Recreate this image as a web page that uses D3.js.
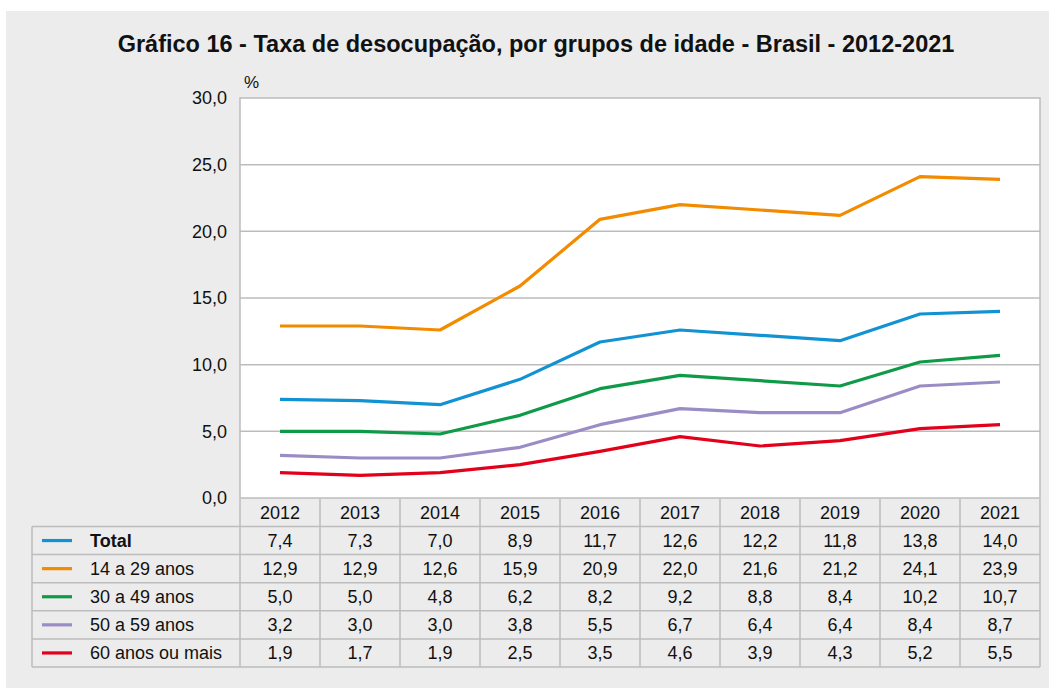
<!DOCTYPE html>
<html>
<head>
<meta charset="utf-8">
<script src="https://cdn.jsdelivr.net/npm/d3@7"></script>
<style>
  body { margin: 0; background: #fff; }
  svg { display: block; font-family: "Liberation Sans", Arial, sans-serif; }
</style>
</head>
<body>
<div id="chart"></div>
<script>
// data
const years = ["2012", "2013", "2014", "2015", "2016", "2017", "2018", "2019", "2020", "2021"];
const seriesNames = ["Total", "14 a 29 anos", "30 a 49 anos", "50 a 59 anos", "60 anos ou mais"];
const total = [7.4, 7.3, 7.0, 8.9, 11.7, 12.6, 12.2, 11.8, 13.8, 14.0];
const age14to29 = [12.9, 12.9, 12.6, 15.9, 20.9, 22.0, 21.6, 21.2, 24.1, 23.9];
const age30to49 = [5.0, 5.0, 4.8, 6.2, 8.2, 9.2, 8.8, 8.4, 10.2, 10.7];
const age50to59 = [3.2, 3.0, 3.0, 3.8, 5.5, 6.7, 6.4, 6.4, 8.4, 8.7];
const age60plus = [1.9, 1.7, 1.9, 2.5, 3.5, 4.6, 3.9, 4.3, 5.2, 5.5];
const yTicks = [0, 5, 10, 15, 20, 25, 30];

const series = [total, age14to29, age30to49, age50to59, age60plus];
const colors = ["#1192d3", "#f28b00", "#0f9a47", "#9a8dc5", "#e3001b"];

const W = 1049, H = 689;
const plot = { left: 240, right: 1040, top: 98, bottom: 498 };
const tableLeft = 32;
const headerTop = 499, headerH = 27.5;
const rowH = 28.1;
const gridColor = "#bcbcbc";
const fs = 18;
const fmt = v => v.toFixed(1).replace(".", ",");

const svg = d3.select("#chart").append("svg")
    .attr("width", W)
    .attr("height", H);

// gray panel
svg.append("rect")
    .attr("x", 6).attr("y", 11)
    .attr("width", W - 6).attr("height", H - 12)
    .attr("fill", "#ececec");

// title
svg.append("text")
    .attr("x", 536).attr("y", 52)
    .attr("text-anchor", "middle")
    .attr("font-size", 23.5)
    .attr("font-weight", "bold")
    .attr("fill", "#111")
    .text("Gráfico 16 - Taxa de desocupação, por grupos de idade - Brasil - 2012-2021");

// scales
const x = d3.scaleBand().domain(years).range([plot.left, plot.right]);
const y = d3.scaleLinear().domain([0, 30]).range([plot.bottom, plot.top]);

// plot background
svg.append("rect")
    .attr("x", plot.left).attr("y", plot.top)
    .attr("width", plot.right - plot.left)
    .attr("height", plot.bottom - plot.top)
    .attr("fill", "#fff")
    .attr("stroke", gridColor)
    .attr("stroke-width", 1.5);

// gridlines
svg.append("g")
    .selectAll("line")
    .data(yTicks.filter(d => d > 0 && d < 30))
    .join("line")
    .attr("x1", plot.left).attr("x2", plot.right)
    .attr("y1", d => y(d)).attr("y2", d => y(d))
    .attr("stroke", gridColor)
    .attr("stroke-width", 1.5);

// y axis labels
const yAxis = d3.axisLeft(y).tickValues(yTicks).tickFormat(fmt).tickSize(0).tickPadding(13);
const yg = svg.append("g")
    .attr("transform", "translate(" + plot.left + ",0)")
    .call(yAxis);
yg.select(".domain").remove();
yg.selectAll("text")
    .attr("font-size", fs)
    .attr("font-family", "Liberation Sans, Arial, sans-serif")
    .attr("fill", "#111");

svg.append("text")
    .attr("x", 244).attr("y", 88)
    .attr("font-size", 17)
    .attr("fill", "#111")
    .text("%");

// lines
const line = d3.line()
    .x((d, i) => x(years[i]) + x.bandwidth() / 2)
    .y(d => y(d));

svg.append("g")
    .selectAll("path")
    .data(series)
    .join("path")
    .attr("d", d => line(d))
    .attr("fill", "none")
    .attr("stroke", (d, i) => colors[i])
    .attr("stroke-width", 3.2)
    .attr("stroke-linejoin", "round");

// table
const table = svg.append("g");
const tableBottom = headerTop + headerH + rowH * seriesNames.length;

// header row with years
table.selectAll(".yr")
    .data(years)
    .join("text")
    .attr("class", "yr")
    .attr("x", d => x(d) + x.bandwidth() / 2)
    .attr("y", headerTop + headerH / 2 + 6.5)
    .attr("text-anchor", "middle")
    .attr("font-size", fs)
    .attr("fill", "#111")
    .text(d => d);

// horizontal row lines
const rowLines = d3.range(seriesNames.length + 1).map(i => headerTop + headerH + i * rowH);
table.selectAll(".hline")
    .data(rowLines)
    .join("line")
    .attr("x1", tableLeft).attr("x2", plot.right)
    .attr("y1", d => d).attr("y2", d => d)
    .attr("stroke", gridColor)
    .attr("stroke-width", 1.5);

// vertical column lines
const colLines = years.map(d => x(d)).concat([plot.right]);
table.selectAll(".vline")
    .data(colLines)
    .join("line")
    .attr("x1", d => d).attr("x2", d => d)
    .attr("y1", headerTop).attr("y2", tableBottom)
    .attr("stroke", gridColor)
    .attr("stroke-width", 1.5);

table.append("line")
    .attr("x1", tableLeft).attr("x2", tableLeft)
    .attr("y1", headerTop + headerH).attr("y2", tableBottom)
    .attr("stroke", gridColor)
    .attr("stroke-width", 1.5);

// rows: legend key + label + values
seriesNames.forEach((name, i) => {
    const cy = headerTop + headerH + i * rowH + rowH / 2;
    table.append("line")
        .attr("x1", 42).attr("x2", 72)
        .attr("y1", cy).attr("y2", cy)
        .attr("stroke", colors[i])
        .attr("stroke-width", 3.2);
    table.append("text")
        .attr("x", 90).attr("y", cy + 6.5)
        .attr("font-size", fs)
        .attr("font-weight", i === 0 ? "bold" : "normal")
        .attr("fill", "#111")
        .text(name);
    table.selectAll(".v" + i)
        .data(series[i])
        .join("text")
        .attr("class", "v" + i)
        .attr("x", (d, j) => x(years[j]) + x.bandwidth() / 2)
        .attr("y", cy + 6.5)
        .attr("text-anchor", "middle")
        .attr("font-size", fs)
        .attr("fill", "#111")
        .text(d => fmt(d));
});
</script>
</body>
</html>
